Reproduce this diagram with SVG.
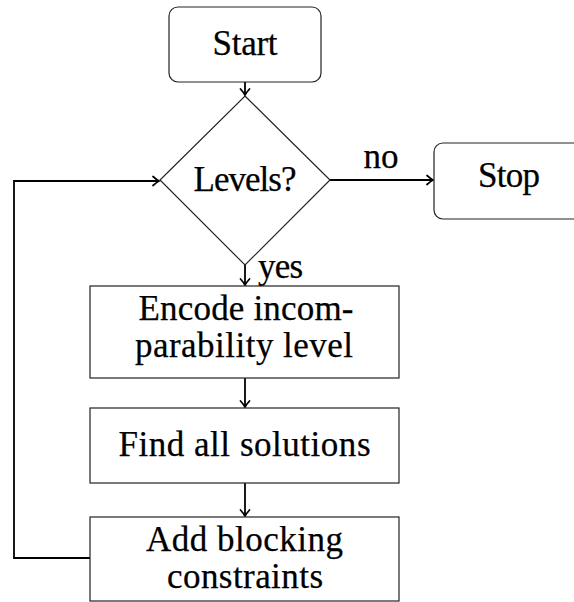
<svg xmlns="http://www.w3.org/2000/svg" width="574" height="602" viewBox="0 0 574 602">
  <style>
    .box { fill: #ffffff; stroke: #222222; stroke-width: 1.2; }
    .lbl { font-family: "Liberation Serif", "Times New Roman", serif; font-size: 35px; fill: #000000; stroke: #000000; stroke-width: 0.25; }
    .edge { fill: none; stroke: #000000; stroke-width: 1.8; }
  </style>
  <defs>
    <marker id="tip" viewBox="-7 -6 9 12" refX="0" refY="0" markerWidth="9" markerHeight="12" markerUnits="userSpaceOnUse" orient="auto">
      <path d="M-6,-4.5 Q-2,-1 0,0 Q-2,1 -6,4.5" fill="none" stroke="#000" stroke-width="1.7" stroke-linecap="round"/>
    </marker>
  </defs>
  <rect width="574" height="602" fill="#ffffff"/>

  <g id="connectors">
    <line class="edge" x1="245" y1="82" x2="245" y2="95" marker-end="url(#tip)"/>
    <line class="edge" x1="330" y1="180" x2="433" y2="180" marker-end="url(#tip)"/>
    <line class="edge" x1="245" y1="265" x2="245" y2="285" marker-end="url(#tip)"/>
    <line class="edge" x1="245" y1="378" x2="245" y2="407" marker-end="url(#tip)"/>
    <line class="edge" x1="245" y1="483" x2="245" y2="516" marker-end="url(#tip)"/>
    <polyline class="edge" points="90,558 14,558 14,181 159,181" marker-end="url(#tip)"/>
    <text class="lbl" x="381" y="168" text-anchor="middle" textLength="35">no</text>
    <text class="lbl" x="258" y="278" textLength="45">yes</text>
  </g>

  <g id="start">
    <rect class="box" x="169" y="7" width="152" height="75" rx="9"/>
    <text class="lbl" x="245" y="55" text-anchor="middle" textLength="65">Start</text>
  </g>

  <g id="levels">
    <polygon class="box" points="245,96 330,180 245,265 160,180"/>
    <text class="lbl" x="245" y="191" text-anchor="middle" textLength="103">Levels?</text>
  </g>

  <g id="stop">
    <rect class="box" x="434" y="143" width="160" height="76" rx="9"/>
    <text class="lbl" x="509" y="187" text-anchor="middle" textLength="62">Stop</text>
  </g>

  <g id="encode">
    <rect class="box" x="90" y="286" width="309" height="92"/>
    <text class="lbl" x="246" y="320" text-anchor="middle" textLength="215">Encode incom-</text>
    <text class="lbl" x="244" y="357" text-anchor="middle" textLength="218">parability level</text>
  </g>

  <g id="find">
    <rect class="box" x="90" y="408" width="309" height="75"/>
    <text class="lbl" x="244.5" y="456" text-anchor="middle" textLength="252">Find all solutions</text>
  </g>

  <g id="block">
    <rect class="box" x="90" y="517" width="309" height="84"/>
    <text class="lbl" x="244.5" y="551" text-anchor="middle" textLength="197">Add blocking</text>
    <text class="lbl" x="245" y="588" text-anchor="middle" textLength="156">constraints</text>
  </g>
</svg>
